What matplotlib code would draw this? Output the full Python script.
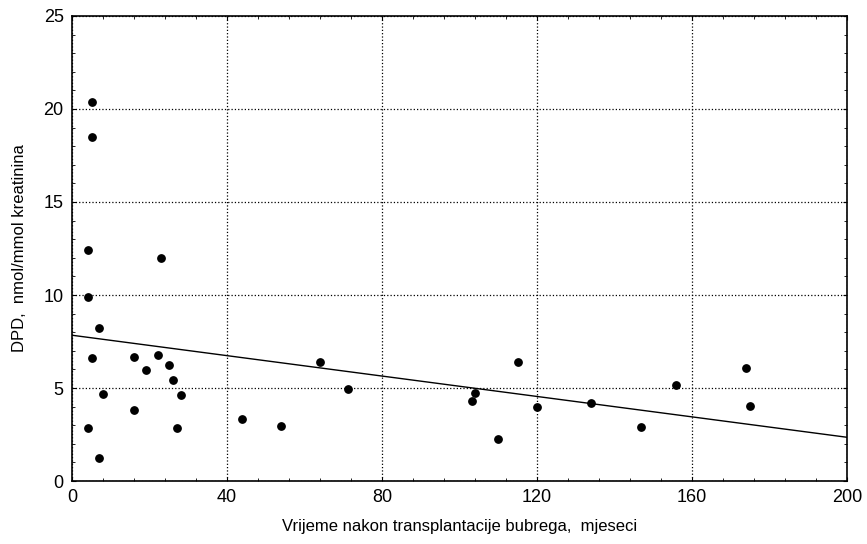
import numpy as np
import matplotlib
matplotlib.use('Agg')
import matplotlib.pyplot as plt
from matplotlib.ticker import MultipleLocator

plt.rcParams['font.family'] = ['Liberation Sans', 'DejaVu Sans']

# mjeseci nakon transplantacije / DPD
mjeseci = [5.1, 5.1, 4.2, 23.1, 4.2, 7.0, 5.1, 16.0, 22.1, 25.0, 19.1, 26.1,
           8.1, 28.1, 16.0, 4.2, 27.1, 7.0,
           44.0, 53.9, 63.9, 71.1, 104.0, 103.1, 110.0, 115.0, 120.0,
           133.9, 146.9, 155.9, 173.8, 174.9]
dpd = [20.4, 18.5, 12.4, 12.0, 9.9, 8.2, 6.6, 6.65, 6.75, 6.25, 5.95, 5.45,
       4.7, 4.6, 3.8, 2.85, 2.85, 1.25,
       3.35, 2.95, 6.4, 4.97, 4.72, 4.3, 2.25, 6.4, 4.0,
       4.2, 2.92, 5.15, 6.05, 4.02]

eixox = 'Vrijeme nakon transplantacije bubrega,  mjeseci'
eixoy = 'DPD,  nmol/mmol kreatinina'

fig = plt.figure(figsize=(8.67, 5.44), dpi=100)
ax = fig.add_axes([0.083, 0.1158, 0.894, 0.8548])

# linearna regresija
k, n = np.polyfit(mjeseci, dpd, 1)
xl = np.array([0, 200])
ax.plot(xl, k * xl + n, color='k', linewidth=1)

ax.scatter(mjeseci, dpd, color='k', s=28, zorder=3)

ax.set_xlim(0, 200)
ax.set_ylim(0, 25)
ax.xaxis.set_major_locator(MultipleLocator(40))
ax.xaxis.set_minor_locator(MultipleLocator(8))
ax.yaxis.set_major_locator(MultipleLocator(5))
ax.yaxis.set_minor_locator(MultipleLocator(1))
ax.tick_params(which='both', direction='in', top=True, right=True, labelsize=13)
ax.tick_params(which='major', length=3, pad=6)
ax.tick_params(which='minor', length=2)
ax.grid(True, which='major', color='k', linestyle=':', linewidth=0.9)
for s in ax.spines.values():
    s.set_linewidth(1.2)

ax.set_xlabel(eixox, fontsize=12, labelpad=9)
ax.set_ylabel(eixoy, fontsize=12, labelpad=12)

fig.savefig('out.png', dpi=100)
